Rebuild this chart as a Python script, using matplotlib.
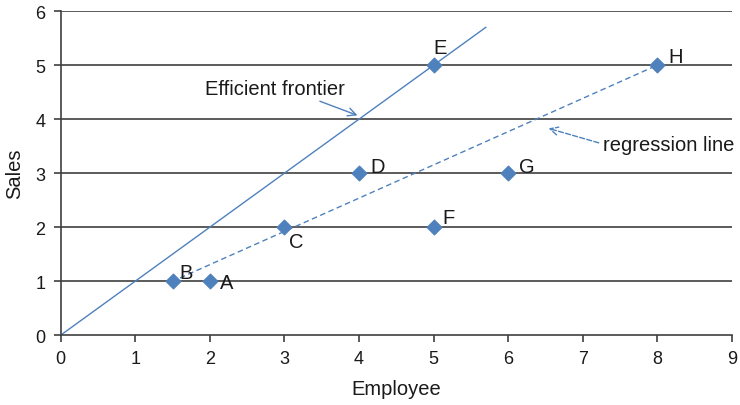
import matplotlib
matplotlib.use("Agg")
import matplotlib.pyplot as plt

plt.rcParams['font.family'] = ['Liberation Sans', 'DejaVu Sans']

labels = ["A", "B", "C", "D", "E", "F", "G", "H"]
employee = [2, 1.5, 3, 4, 5, 5, 6, 8]
sales = [1, 1, 2, 3, 5, 2, 3, 5]

frontier_x = [0, 5.7]
frontier_y = [0, 5.7]
regress_x = [1.6, 8]
regress_y = [1.06, 5]

label_offsets = {"A": (7, -1), "B": (5, 6), "C": (3, -10), "D": (8, 5),
                 "E": (0, 13), "F": (6, 7), "G": (8, 5), "H": (8, 6)}

blue = "#4F81BD"
txt = "#1a1a1a"

fig = plt.figure(figsize=(7.4, 4.06), dpi=100)
ax = fig.add_axes([0.082, 0.172, 0.907, 0.798])

ax.set_xlim(0, 9)
ax.set_ylim(0, 6)
ax.set_xticks(range(0, 10))
ax.set_yticks(range(0, 7))
for y in range(1, 7):
    ax.axhline(y, color="#404040", lw=1.2, zorder=1)

ax.plot(frontier_x, frontier_y, color=blue, lw=1.0, zorder=2)
ax.plot(regress_x, regress_y, color=blue, lw=1.0, ls=(0, (4, 2.5)), zorder=2)
ax.scatter(employee, sales, marker="D", s=55, color=blue, zorder=3)

for lab, x, y in zip(labels, employee, sales):
    dx, dy = label_offsets[lab]
    ax.annotate(lab, (x, y), xytext=(dx, dy), textcoords="offset points",
                fontsize=14.5, ha="left", va="center", color=txt)

ax.annotate("Efficient frontier", xy=(3.98, 4.07), xytext=(2.87, 4.56),
            fontsize=14.5, ha="center", va="center", color=txt,
            arrowprops=dict(arrowstyle="->", color=blue, lw=1.0,
                            shrinkA=0, shrinkB=0,
                            relpos=(0.77, 0.0)))
ax.annotate("regression line", xy=(6.54, 3.83), xytext=(7.27, 3.54),
            fontsize=14.5, ha="left", va="center", color=txt,
            arrowprops=dict(arrowstyle="->", color=blue, lw=1.0, ls="--",
                            shrinkA=1, shrinkB=0, relpos=(0.0, 0.5)))

for s in ["top", "right"]:
    ax.spines[s].set_visible(False)
for s in ["left", "bottom"]:
    ax.spines[s].set_color("#404040")
    ax.spines[s].set_linewidth(1.2)
ax.tick_params(axis="both", labelsize=13, color="#404040", length=5,
               width=1.2, direction="out", labelcolor=txt)
ax.tick_params(axis="y", pad=6)
ax.tick_params(axis="x", pad=6)

ax.set_xlabel("Employee", fontsize=14.5, labelpad=8, color=txt)
ax.set_ylabel("Sales", fontsize=14.5, labelpad=8, color=txt)

fig.savefig("out.png", dpi=100)
